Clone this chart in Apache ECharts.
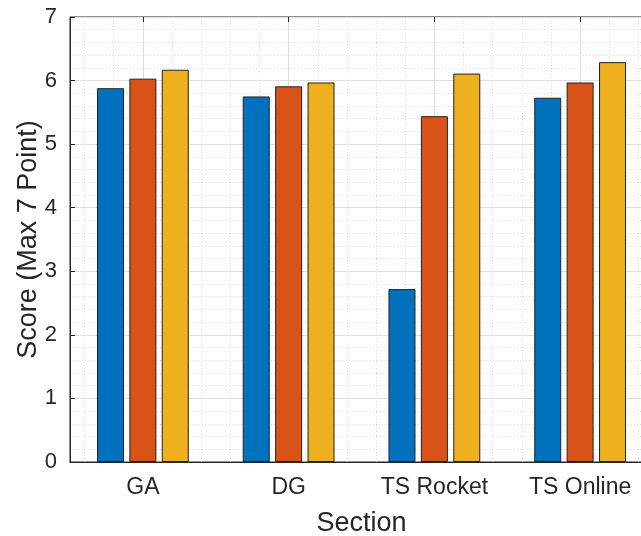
<!DOCTYPE html>
<html>
<head>
<meta charset="utf-8">
<script src="https://cdn.jsdelivr.net/npm/echarts@6/dist/echarts.min.js"></script>
<style>html,body{margin:0;padding:0;background:#fff}#c{width:641px;height:536px}</style>
</head>
<body>
<div id="c"></div>
<script>
const categories = ['GA', 'DG', 'TS Rocket', 'TS Online'];
const series1 = [5.88, 5.75, 2.72, 5.73];
const series2 = [6.03, 5.91, 5.44, 5.97];
const series3 = [6.17, 5.97, 6.11, 6.29];
const yTicks = [0, 1, 2, 3, 4, 5, 6, 7];
const colors = ['#0072BD', '#D95319', '#EDB120'];

const majorX = categories.map((c, i) => i + 1);
// minor positions at multiples of 0.2 within (0.5,4.5), excluding majors
const minorXs = [];
for (let v = 0.6; v < 4.5; v += 0.2) {
  const r = Math.round(v * 10) / 10;
  if (Math.abs(r - Math.round(r)) > 1e-6) minorXs.push(r);
}

const font = 'Liberation Sans, Arial, Helvetica, sans-serif';
const axisColor = '#262626';

const chart = echarts.init(document.getElementById('c'));
const mk = (name, data, color) => ({
  name, type: 'bar', data, xAxisIndex: 0, yAxisIndex: 0,
  barWidth: 27, barGap: '20%',
  itemStyle: { color, borderColor: '#222', borderWidth: 1 },
  z: 3
});
chart.setOption({
  animation: false,
  backgroundColor: '#fff',
  grid: { left: 70, top: 17, width: 583, height: 445, outerBoundsMode: 'none', containLabel: false,
    show: true, borderColor: axisColor, borderWidth: 1, backgroundColor: 'transparent' },
  xAxis: [
    {
      type: 'category', data: categories, position: 'bottom',
      name: 'Section', nameLocation: 'middle', nameGap: 48, nameMoveOverlap: false,
      nameTextStyle: { fontFamily: font, fontSize: 27, color: axisColor },
      axisLine: { lineStyle: { color: axisColor, width: 1 } },
      axisTick: { show: true, inside: true, alignWithLabel: true, length: 5, lineStyle: { color: axisColor } },
      axisLabel: { fontFamily: font, fontSize: 23, color: axisColor, margin: 14 },
      splitLine: { show: false }
    },
    {
      type: 'value', min: 0.5, max: 4.5, position: 'top',
      axisLine: { show: false },
      axisLabel: { show: false },
      axisTick: { show: true, inside: true, length: 5, customValues: majorX, lineStyle: { color: axisColor } },
      splitLine: { show: true, lineStyle: { color: '#dedede', width: 1, type: 'solid' } },
      z: 1
    },
    {
      type: 'value', min: 0.5, max: 4.5, position: 'top',
      axisLine: { show: false },
      axisLabel: { show: false },
      axisTick: { show: false, customValues: minorXs },
      splitLine: { show: true, lineStyle: { color: '#dcdcdc', width: 1, type: [1, 2] } },
      z: 0
    }
  ],
  yAxis: [{
    type: 'value', min: 0, max: 7, interval: 1,
    name: 'Score (Max 7 Point)', nameLocation: 'middle', nameGap: 28, nameMoveOverlap: false,
    nameTextStyle: { fontFamily: font, fontSize: 27, color: axisColor },
    axisLine: { show: true, lineStyle: { color: axisColor, width: 1 } },
    axisTick: { show: true, inside: true, length: 5, lineStyle: { color: axisColor } },
    axisLabel: { fontFamily: font, fontSize: 22, color: axisColor, margin: 13,
      formatter: v => (yTicks.indexOf(v) >= 0 ? String(v) : '') },
    splitLine: { show: true, lineStyle: { color: '#dedede', width: 1 } },
    minorTick: { show: false, splitNumber: 5 },
    minorSplitLine: { show: true, lineStyle: { color: '#dcdcdc', width: 1, type: [1, 2] } }
  }],
  series: [
    mk('S1', series1, colors[0]),
    mk('S2', series2, colors[1]),
    mk('S3', series3, colors[2])
  ]
});
</script>
</body>
</html>
